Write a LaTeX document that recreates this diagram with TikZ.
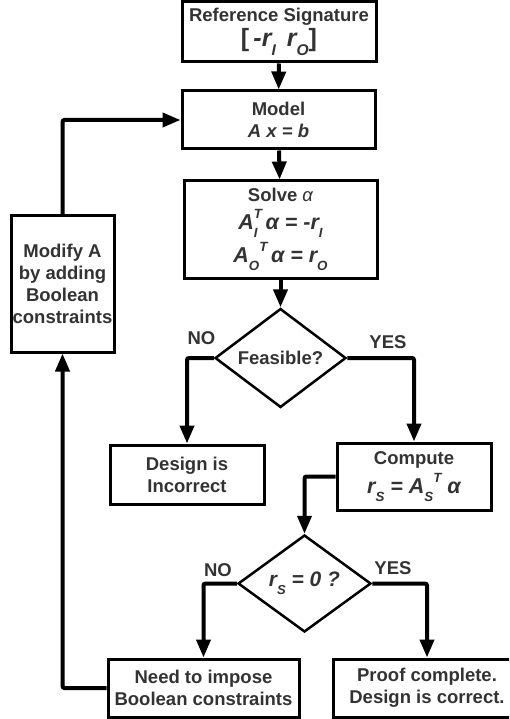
\documentclass[tikz,border=0pt]{standalone}
\usepackage{fontspec}
\setmainfont{Liberation Sans}
\usetikzlibrary{arrows.meta,shapes.geometric}
\definecolor{ink}{HTML}{333333}
% text sizes
\newcommand{\boxfont}{\bfseries\fontsize{18.5}{22}\selectfont}
\newcommand{\eqfont}{\bfseries\itshape\fontsize{21.5}{29}\selectfont}
\newcommand{\bigeq}{\bfseries\fontsize{25}{27}\selectfont}
% scripts: small and well below / above the letter
\newcommand{\lo}[1]{\raisebox{-0.38em}{\scalebox{0.62}{#1}}}
\newcommand{\hi}[1]{\raisebox{0.5em}{\scalebox{0.62}{#1}}}
\newcommand{\losup}[2]{\makebox[0pt][l]{\lo{#1}}\hi{#2}}
\newcommand{\thinalpha}{{\fontseries{m}\selectfont\itshape α}}
\begin{document}
\begin{tikzpicture}[x=1pt,y=-1pt,
  stepbox/.style={draw=black, line width=3pt, fill=white, rectangle,
    inner sep=0pt, align=center, text=ink, font=\boxfont},
  decision/.style={draw=black, line width=2.5pt, fill=white, diamond,
    inner sep=0pt, text=ink, font=\boxfont},
  conn/.style={line width=4pt, rounded corners=2pt,
    -{Triangle[length=18pt,width=14pt]}},
  answer/.style={text=ink, font=\boxfont, inner sep=0pt}]
\useasboundingbox (0,0) rectangle (509,719);
\clip (0,0) rectangle (509,719);

% process boxes
\node[stepbox, minimum width=194pt, minimum height=60pt] (ref) at (279,32)
  {Reference Signature\\[2pt]{\bigeq [\,\textit{-r\lo{I}\, r\lo{O}}]}};
\node[stepbox, minimum width=193pt, minimum height=58pt] (model) at (278.5,120)
  {Model\\\textit{A x = b}};
\node[stepbox, minimum width=193pt, minimum height=97pt] (solve) at (280.5,229.5)
  {Solve \thinalpha\\[6pt]
   {\eqfont A\losup{I}{T}\,α = -r\lo{I}}\\[4pt]
   {\eqfont A\lo{O}\hi{T}\,α = r\lo{O}}};
\node[stepbox, minimum width=103pt, minimum height=136pt] (modify) at (62.5,284)
  {Modify A\\by adding\\Boolean\\constraints};
\node[stepbox, minimum width=154pt, minimum height=59pt] (design) at (187,474.5)
  {Design is\\Incorrect};
\node[stepbox, minimum width=154pt, minimum height=67pt] (compute) at (414,476.5)
  {Compute\\[4pt]{\eqfont r\lo{S} = A\lo{S}\hi{T} α}};
\node[stepbox, minimum width=191pt, minimum height=58pt] (need) at (203.5,688)
  {Need to impose\\Boolean constraints};
\node[stepbox, minimum width=188pt, minimum height=58pt] (proof) at (427,688)
  {Proof complete.\\Design is correct.};

% decisions
\node[decision, minimum width=131pt, minimum height=98pt] (feas) at (280.5,358)
  {Feasible?};
\node[decision, minimum width=133pt, minimum height=97pt] (zero) at (304.5,583.5)
  {\bfseries\itshape\fontsize{21}{24}\selectfont r\lo{S} = 0 ?};

% branch labels
\node[answer] (feasno) at (201.5,338) {NO};
\node[answer] (feasyes) at (388,342) {YES};
\node[answer] (zerono) at (218,570) {NO};
\node[answer] (zeroyes) at (393,568) {YES};

% connectors
\draw[conn] (ref) -- (model);
\draw[conn] (model) -- (solve);
\draw[conn] (solve) -- (feas);
\draw[conn] (feas.west) -| (design.north);
\draw[conn] (feas.east) -| (compute.north);
\draw[conn] (compute.west) -| (zero.north);
\draw[conn] (zero.west) -| (need.north);
\draw[conn] (zero.east) -| (proof.north);
\draw[conn] (need.west) -| (modify.south);
\draw[conn] (modify.north) |- (model.west);
\end{tikzpicture}
\end{document}
